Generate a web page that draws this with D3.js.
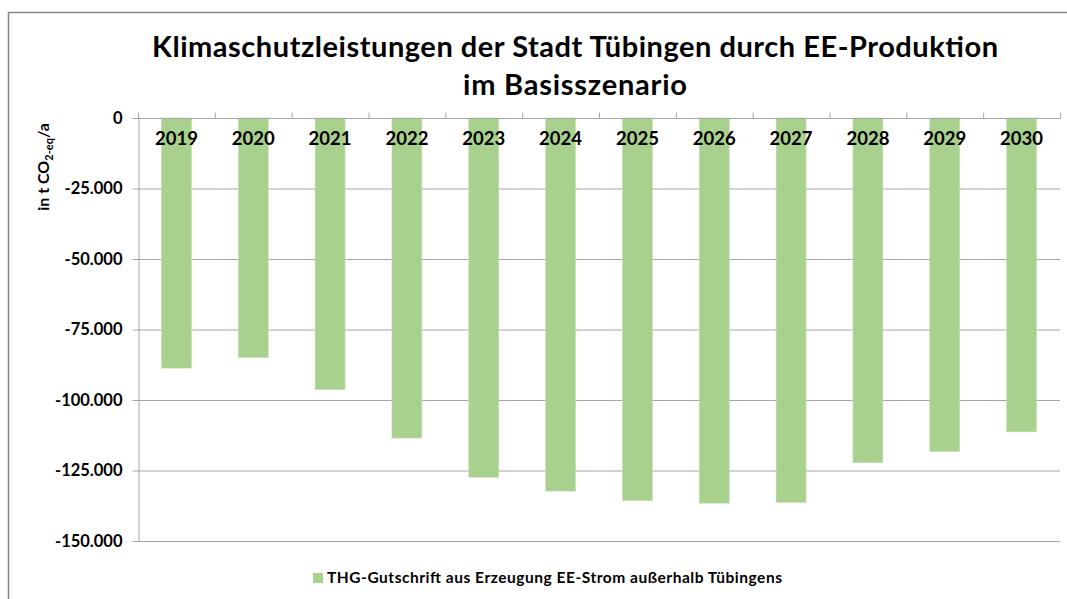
<!DOCTYPE html>
<html>
<head>
    <title>Klimaschutzleistungen Tübingen</title>
    <script src="https://cdn.jsdelivr.net/npm/d3@7"></script>
    <style>
        body { margin: 0; background: #fff; }
        text { font-family: Lato, "Open Sans", sans-serif; font-weight: bold; fill: #000; }
    </style>
</head>
<body>
    <svg id="chart" width="1067" height="599"></svg>
    <script>
        const years = ["2019", "2020", "2021", "2022", "2023", "2024", "2025", "2026", "2027", "2028", "2029", "2030"];
        const credits = [-88700, -85000, -96300, -113500, -127400, -132300, -135700, -136600, -136300, -122200, -118300, -111300];
        const yTicks = [0, -25000, -50000, -75000, -100000, -125000, -150000];
        const titleLines = ["Klimaschutzleistungen der Stadt Tübingen durch EE-Produktion", "im Basisszenario"];
        const seriesName = "THG-Gutschrift aus Erzeugung EE-Strom außerhalb Tübingens";

        const svg = d3.select("#chart");
        const plotLeft = 138, plotRight = 1060, plotTop = 118, plotBottom = 541;

        // chart frame (runs past the right and bottom edge)
        svg.append("rect").attr("x", 8.5).attr("y", 12.5).attr("width", 1100).attr("height", 700)
            .attr("fill", "#fff").attr("stroke", "#868686").attr("stroke-width", 1.5);

        const x = d3.scaleBand().domain(years).range([plotLeft, plotRight]).paddingInner(0.61).paddingOuter(0.305);
        const xEdges = d3.scaleBand().domain(years).range([plotLeft, plotRight]);
        const y = d3.scaleLinear().domain([0, -150000]).range([plotTop, plotBottom]);

        // gridlines
        svg.append("g").selectAll("line").data(yTicks.filter(d => d !== 0)).enter().append("line")
            .attr("x1", plotLeft).attr("x2", plotRight)
            .attr("y1", d => y(d) + 0.5).attr("y2", d => y(d) + 0.5)
            .attr("stroke", "#a6a6a6").attr("stroke-width", 1);

        // y axis
        const fmt = d => d === 0 ? "0" : d3.format(",")(d).replace(/,/g, ".").replace("−", "-");
        const yAxis = svg.append("g").attr("transform", `translate(${plotLeft + 0.5},0)`)
            .call(d3.axisLeft(y).tickValues(yTicks).tickSize(6).tickPadding(10).tickFormat(fmt));
        yAxis.selectAll("line, path").attr("stroke", "#a6a6a6");
        yAxis.attr("font-family", null).attr("font-size", null);
        yAxis.selectAll("text").style("font-size", "16.5px");

        // bars
        svg.append("g").selectAll("rect").data(credits).enter().append("rect")
            .attr("x", (d, i) => x(years[i]))
            .attr("y", y(0))
            .attr("width", x.bandwidth())
            .attr("height", d => y(d) - y(0))
            .attr("fill", "#a9d18e").attr("stroke", "#c5e0b4").attr("stroke-width", 0.6);

        // x axis at zero, ticks pointing up
        const xAxisG = svg.append("g").attr("transform", `translate(0,${y(0) + 0.5})`);
        xAxisG.append("line").attr("x1", plotLeft).attr("x2", plotRight).attr("stroke", "#a6a6a6");
        xAxisG.selectAll("line.tick").data(years.concat(["end"])).enter().append("line")
            .attr("x1", (d, i) => i < years.length ? xEdges(d) + 0.5 : plotRight + 0.5)
            .attr("x2", (d, i) => i < years.length ? xEdges(d) + 0.5 : plotRight + 0.5)
            .attr("y1", 0).attr("y2", -6).attr("stroke", "#a6a6a6");
        xAxisG.selectAll("text").data(years).enter().append("text")
            .attr("x", d => xEdges(d) + xEdges.bandwidth() / 2)
            .attr("y", 26).attr("text-anchor", "middle")
            .style("font-size", "18.5px").text(d => d);

        // y axis title
        const yt = svg.append("text").attr("transform", "translate(49,167) rotate(-90)")
            .attr("text-anchor", "middle").style("font-size", "16px");
        yt.append("tspan").text("in t CO");
        yt.append("tspan").text("2-eq").attr("dy", 4).style("font-size", "11px");
        yt.append("tspan").text("/a").attr("dy", -4);

        // title
        svg.append("g").selectAll("text").data(titleLines).enter().append("text")
            .attr("x", 575).attr("y", (d, i) => 57 + i * 38)
            .attr("text-anchor", "middle").style("font-size", "29px")
            .attr("textLength", (d, i) => i === 0 ? 846 : 224).attr("lengthAdjust", "spacing")
            .text(d => d);

        // legend
        svg.append("rect").attr("x", 313).attr("y", 573).attr("width", 10).attr("height", 10).attr("fill", "#a9d18e");
        svg.append("text").attr("x", 327).attr("y", 583).style("font-size", "15.5px")
            .attr("textLength", 455).attr("lengthAdjust", "spacing").text(seriesName);
    </script>
</body>
</html>
